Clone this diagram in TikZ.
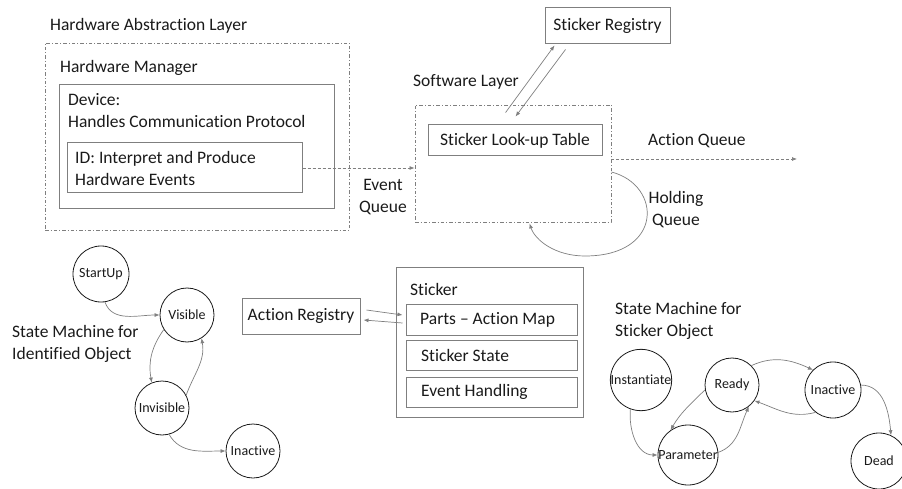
\documentclass[tikz,border=0pt]{standalone}
\usepackage{fontspec}
\setmainfont{Carlito}[RawFeature={-liga;-dlig}]
\usetikzlibrary{arrows.meta,calc}
\definecolor{ln}{HTML}{7F7F7F}
\definecolor{tx}{HTML}{1A1A1A}
\tikzset{
  box/.style={draw=ln, line width=1pt, inner sep=0pt},
  ddbox/.style={draw=ln, line width=0.9pt, dash pattern=on 3.5pt off 2pt on 1pt off 2pt, inner sep=0pt},
  lbl/.style={text=tx, font=\fontsize{17.5}{22}\selectfont, inner sep=0pt, align=left},
  st/.style={circle, draw=tx, line width=0.8pt, minimum size=56pt, inner sep=0pt, text=tx, font=\fontsize{14}{16}\selectfont},
  arr/.style={draw=ln, line width=0.7pt, -{Latex[length=5pt,width=4pt]}},
  darr/.style={arr, dash pattern=on 3pt off 2pt},
}
\begin{document}
\begin{tikzpicture}[x=1pt,y=-1pt]
\useasboundingbox (0,0) rectangle (902,489);
% Hardware abstraction layer
\node[ddbox, minimum width=304pt, minimum height=187pt] (hal) at (197,136.5) {};
\node[lbl, anchor=west] (halt) at (50,26) {Hardware Abstraction Layer};
\node[lbl, anchor=west] (hmt) at (60,68) {Hardware Manager};
\node[box, minimum width=275pt, minimum height=124pt] (dev) at (196.5,147) {};
\node[lbl, anchor=west] (devt) at (68,111) {Device:\\Handles Communication Protocol};
\node[box, minimum width=235pt, minimum height=50pt] (id) at (184.5,168) {};
\node[lbl, anchor=west] (idt) at (75,168) {ID: Interpret and Produce\\Hardware Events};
% Software layer
\node[ddbox, minimum width=196pt, minimum height=117pt] (sw) at (513,163.5) {};
\node[lbl, anchor=west] (swt) at (413,82) {Software Layer};
\node[box, minimum width=174pt, minimum height=31pt, lbl] (lut) at (515,140.5) {Sticker Look-up Table};
\node[box, minimum width=125pt, minimum height=36pt, lbl] (reg) at (607.5,26) {Sticker Registry};
\node[lbl, align=center] (evq) at (383,197) {Event\\Queue};
\node[lbl, anchor=west] (aqt) at (648,141) {Action Queue};
\node[lbl, align=center] (hqt) at (676,209.5) {Holding\\Queue};
\coordinate (aqend) at (797,159);
\draw[darr] (id.east) -- (id.east -| sw.west);
\draw[darr] ($(sw.east)+(0,-4.5)$) -- (aqend);
\draw[arr] ($(sw.north west)+(91,8)$) -- ($(reg.south west)+(10,1)$);
\draw[arr] ($(reg.south west)+(21,5)$) -- ($(sw.north west)+(101,12)$);
\draw[arr] ($(sw.east)+(0,8.5)$) .. controls (662,185) and (664,256) .. (585,256) .. controls (555,256) and (535,240) .. ($(sw.south west)+(115,1)$);
% Sticker
\node[box, minimum width=187pt, minimum height=150pt] (stk) at (489.5,342) {};
\node[lbl, anchor=west] (stkt) at (410,289) {Sticker};
\node[box, minimum width=171pt, minimum height=31pt] (parts) at (491.5,319.5) {};
\node[lbl, anchor=west] (partst) at (420,319.5) {Parts -- Action Map};
\node[box, minimum width=171pt, minimum height=30pt] (sst) at (491.5,355) {};
\node[lbl, anchor=west] (sstt) at (421,355) {Sticker State};
\node[box, minimum width=171pt, minimum height=30pt] (evh) at (491.5,392) {};
\node[lbl, anchor=west] (evht) at (421,392) {Event Handling};
\node[box, minimum width=118pt, minimum height=36pt, lbl] (areg) at (301,316) {Action Registry};
\draw[arr] ($(areg.east)+(6,-6)$) -- ($(parts.west)+(-3,-4.5)$);
\draw[arr] ($(parts.west)+(-3,3.5)$) -- ($(areg.east)+(3,4)$);
% State machine identified object
\node[lbl, anchor=west] (smi) at (12,344) {State Machine for\\Identified Object};
\node[st] (su) at (101,274) {StartUp};
\node[st, minimum size=54pt] (vis) at (187,315) {Visible};
\node[st, minimum size=54pt] (inv) at (162,408) {Invisible};
\node[st, minimum size=54pt] (ina) at (253,451) {Inactive};
\draw[arr] (su.-82) to[out=-70,in=180] (vis.west);
\draw[arr] (vis.-148) to[out=-125,in=100] (inv.112);
\draw[arr] (inv.28) to[out=70,in=-80] (vis.-58);
\draw[arr] (inv.-75) to[out=-60,in=180] (ina.west);
% State machine sticker object
\node[lbl, anchor=west] (sms) at (615,321) {State Machine for\\Sticker Object};
\node[st, minimum size=58pt] (inst) at (641,380) {Instantiate};
\node[st, minimum size=54pt] (rdy) at (732,385) {Ready};
\node[st] (ina2) at (833,390) {Inactive};
\node[st, minimum size=60pt] (par) at (688,455) {Parameter};
\node[st] (dead) at (879,461) {Dead};
\draw[arr] (inst.-110) to[out=-95,in=180] (par.west);
\draw[arr] (rdy.-170) to[out=-135,in=60] (par.125);
\draw[arr] (par.5) to[out=20,in=-115] (rdy.-52);
\draw[arr] (rdy.45) to[out=25,in=155] (ina2.135);
\draw[arr] (ina2.-128) to[out=-165,in=-20] (rdy.-35);
\draw[arr] (ina2.10) to[out=0,in=95] (dead.65);
\end{tikzpicture}
\end{document}
